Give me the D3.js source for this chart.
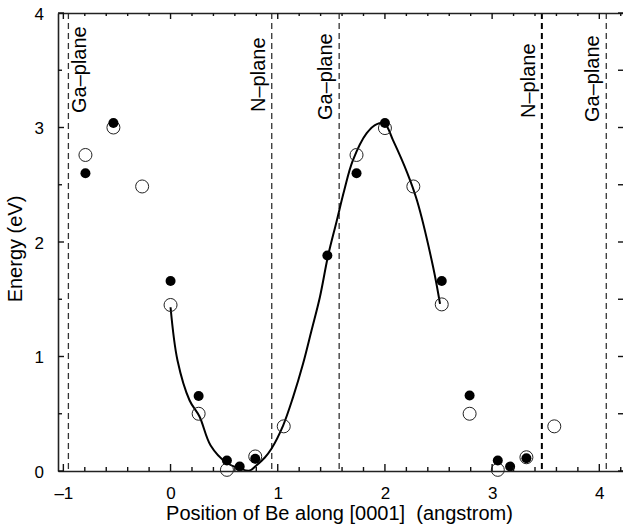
<!DOCTYPE html>
<html>
<head>
<meta charset="utf-8">
<script src="https://cdn.jsdelivr.net/npm/d3@7"></script>
<style>
    body { margin: 0; background: #fff; }
    #chart { width: 623px; height: 529px; }
    text { font-family: "Liberation Sans", Arial, sans-serif; fill: #000; }
</style>
</head>
<body>
<div id="chart"></div>
<script>
// filled circles
const filledX = [-0.794, -0.533, 0, 0.262, 0.526, 0.645, 0.79, 1.463, 1.735, 2.0, 2.53, 2.79, 3.053, 3.168, 3.32];
const filledY = [2.60, 3.04, 1.66, 0.655, 0.092, 0.04, 0.107, 1.882, 2.60, 3.04, 1.66, 0.66, 0.092, 0.04, 0.112];

// open circles
const openX = [-0.794, -0.533, -0.265, 0, 0.262, 0.526, 0.79, 1.056, 1.735, 2.0, 2.265, 2.53, 2.79, 3.053, 3.32, 3.58];
const openY = [2.76, 3.0, 2.485, 1.45, 0.50, 0.01, 0.127, 0.39, 2.76, 2.995, 2.485, 1.455, 0.50, 0.01, 0.12, 0.39];

// fitted curve
const curveX = [0, 0.065, 0.178, 0.27, 0.374, 0.52, 0.645, 0.74, 0.80, 0.88, 0.941, 1.05, 1.143, 1.236, 1.315, 1.393, 1.47, 1.549, 1.62, 1.70, 1.83, 1.925, 2.0, 2.075, 2.21, 2.30, 2.45, 2.514];
const curveY = [1.43, 0.965, 0.616, 0.476, 0.223, 0.074, 0.022, 0.004, 0.048, 0.118, 0.194, 0.397, 0.645, 0.936, 1.227, 1.518, 1.882, 2.18, 2.45, 2.71, 2.95, 3.03, 3.03, 2.89, 2.60, 2.36, 1.78, 1.46];

// atomic planes
const planeX = [-0.953, 0.944, 1.573, 3.464, 4.065];
const planeLabels = ["Ga\u2013plane", "N\u2013plane", "Ga\u2013plane", "N\u2013plane", "Ga\u2013plane"];
const planeLabelBottom = [113, 112, 120, 118, 122];

const xTicks = [-1, 0, 1, 2, 3, 4];
const yTicks = [0, 1, 2, 3, 4];
const xMinorTicks = [-0.8, -0.6, -0.4, -0.2, 0.2, 0.4, 0.6, 0.8, 1.2, 1.4, 1.6, 1.8, 2.2, 2.4, 2.6, 2.8, 3.2, 3.4, 3.6, 3.8, 4.2];
const yMinorTicks = [0.5, 1.5, 2.5, 3.5];

class EnergyVis {
    constructor(containerId) {
        this.containerId = containerId;
        this.initVis();
    }

    initVis() {
        let vis = this;
        vis.margin = { top: 13, right: 0, bottom: 58, left: 58 };
        vis.width = 623 - vis.margin.left - vis.margin.right;
        vis.height = 529 - vis.margin.top - vis.margin.bottom;

        vis.svg = d3.select(`#${vis.containerId}`)
            .append("svg")
            .attr("width", 623)
            .attr("height", 529);

        vis.g = vis.svg.append("g")
            .attr("transform", `translate(${vis.margin.left},${vis.margin.top})`);

        vis.x = d3.scaleLinear().domain([-1.05, 4.221]).range([0, vis.width]);
        vis.y = d3.scaleLinear().domain([0, 4]).range([vis.height, 0]);

        vis.drawPlanes();
        vis.drawData();
        vis.drawAxes();
    }

    drawAxes() {
        let vis = this;
        const fmt = d => d < 0 ? "\u2013" + Math.abs(d) : String(d);

        // axis lines + labels from d3 axes, tick marks drawn separately below
        const bottom = vis.g.append("g").attr("transform", `translate(0,${vis.height})`)
            .call(d3.axisBottom(vis.x).tickValues(xTicks).tickSize(0).tickPadding(16).tickFormat(fmt));
        const top = vis.g.append("g")
            .call(d3.axisTop(vis.x).tickValues([]).tickSize(0));
        const left = vis.g.append("g")
            .call(d3.axisLeft(vis.y).tickValues(yTicks).tickSize(0).tickPadding(14).tickFormat(fmt));

        [bottom, top, left].forEach(a => {
            a.select(".domain").attr("stroke", "#222").attr("stroke-width", 1.6);
            a.selectAll(".tick line").remove();
            a.selectAll(".tick text")
                .style("font-family", "'Liberation Sans', Arial, sans-serif")
                .style("font-size", "17px")
                .attr("fill", "#000");
        });
        left.selectAll(".tick text").attr("dy", "0.36em");

        const ticks = vis.g.append("g").attr("class", "tick-marks")
            .attr("stroke", "#111").attr("stroke-width", 1.4);

        const xAll = xTicks.map(v => ({ v, len: 7 })).concat(xMinorTicks.map(v => ({ v, len: 4 })));
        const yAll = yTicks.map(v => ({ v, len: 6 })).concat(yMinorTicks.map(v => ({ v, len: 4 })));

        // bottom
        ticks.selectAll("line.xb").data(xAll).join("line").attr("class", "xb")
            .attr("x1", d => vis.x(d.v)).attr("x2", d => vis.x(d.v))
            .attr("y1", vis.height).attr("y2", d => vis.height - d.len);
        // top
        ticks.selectAll("line.xt").data(xAll).join("line").attr("class", "xt")
            .attr("x1", d => vis.x(d.v)).attr("x2", d => vis.x(d.v))
            .attr("y1", 0).attr("y2", d => d.len - 1);
        // left
        ticks.selectAll("line.yl").data(yAll).join("line").attr("class", "yl")
            .attr("y1", d => vis.y(d.v)).attr("y2", d => vis.y(d.v))
            .attr("x1", 0).attr("x2", d => d.len);
        // right (frame edge itself lies just off the picture)
        ticks.selectAll("line.yr").data(yAll).join("line").attr("class", "yr")
            .attr("y1", d => vis.y(d.v)).attr("y2", d => vis.y(d.v))
            .attr("x1", vis.width).attr("x2", vis.width - 5);

        // axis titles
        vis.svg.append("text")
            .attr("x", 339.5)
            .attr("y", 520)
            .attr("text-anchor", "middle")
            .style("font-size", "20px")
            .text("Position of Be along [0001]\u00a0\u00a0(angstrom)");

        vis.svg.append("text")
            .attr("transform", "translate(22,249) rotate(-90)")
            .attr("text-anchor", "middle")
            .style("font-size", "20px")
            .text("Energy (eV)");
    }

    drawPlanes() {
        let vis = this;
        planeX.forEach((p, i) => {
            const px = vis.x(p);
            const strong = i === 3;
            vis.g.append("line")
                .attr("class", "plane")
                .attr("x1", px).attr("x2", px)
                .attr("y1", 0).attr("y2", vis.height)
                .attr("stroke", strong ? "#000" : "#333")
                .attr("stroke-width", strong ? 2 : 1.3)
                .attr("stroke-dasharray", "6,4");

            // label sits right of the first line, left of the others
            const bx = i === 0 ? px + 18 : px - 7;
            vis.svg.append("text")
                .attr("transform", `translate(${bx + vis.margin.left},${planeLabelBottom[i]}) rotate(-90)`)
                .style("font-size", "20px")
                .text(planeLabels[i]);
        });
    }

    drawData() {
        let vis = this;
        const curve = curveX.map((d, i) => [d, curveY[i]]);
        const open = openX.map((d, i) => [d, openY[i]]);
        const filled = filledX.map((d, i) => [d, filledY[i]]);

        const line = d3.line()
            .x(d => vis.x(d[0]))
            .y(d => vis.y(d[1]))
            .curve(d3.curveCatmullRom.alpha(0.5));

        vis.g.append("path")
            .datum(curve)
            .attr("fill", "none")
            .attr("stroke", "#000")
            .attr("stroke-width", 2)
            .attr("d", line);

        vis.g.selectAll("circle.open")
            .data(open)
            .join("circle")
            .attr("class", "open")
            .attr("cx", d => vis.x(d[0]))
            .attr("cy", d => vis.y(d[1]))
            .attr("r", 6.5)
            .attr("fill", "none")
            .attr("stroke", "#222")
            .attr("stroke-width", 1);

        vis.g.selectAll("circle.filled")
            .data(filled)
            .join("circle")
            .attr("class", "filled")
            .attr("cx", d => vis.x(d[0]))
            .attr("cy", d => vis.y(d[1]))
            .attr("r", 5)
            .attr("fill", "#000");
    }
}

new EnergyVis("chart");
</script>
</body>
</html>
